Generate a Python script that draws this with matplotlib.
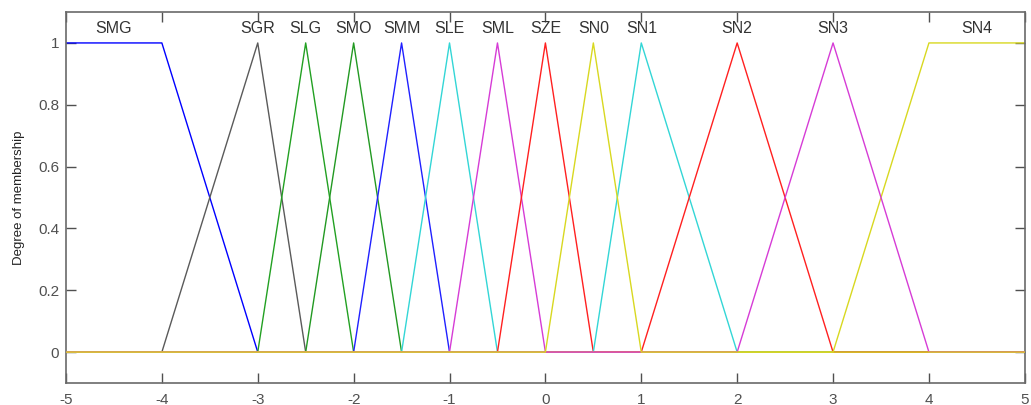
import matplotlib
matplotlib.use("Agg")
import matplotlib.pyplot as plt
import numpy as np

plt.rcParams['font.family'] = ['Liberation Sans', 'DejaVu Sans']

# Membership function names, breakpoints (x) and membership values (y)
names = ["SMG", "SGR", "SLG", "SMO", "SMM", "SLE", "SML", "SZE", "SN0", "SN1", "SN2", "SN3", "SN4"]
mf_x = [
    [-5, -4, -3, 5],
    [-5, -4, -3, -2.5, 5],
    [-5, -3, -2.5, -2, 5],
    [-5, -2.5, -2, -1.5, 5],
    [-5, -2, -1.5, -1, 5],
    [-5, -1.5, -1, -0.5, 5],
    [-5, -1, -0.5, 0, 5],
    [-5, -0.5, 0, 0.5, 5],
    [-5, 0, 0.5, 1, 5],
    [-5, 0.5, 1, 2, 5],
    [-5, 1, 2, 3, 5],
    [-5, 2, 3, 4, 5],
    [-5, 3, 4, 5],
]
mf_y = [
    [1, 1, 0, 0],
    [0, 0, 1, 0, 0],
    [0, 0, 1, 0, 0],
    [0, 0, 1, 0, 0],
    [0, 0, 1, 0, 0],
    [0, 0, 1, 0, 0],
    [0, 0, 1, 0, 0],
    [0, 0, 1, 0, 0],
    [0, 0, 1, 0, 0],
    [0, 0, 1, 0, 0],
    [0, 0, 1, 0, 0],
    [0, 0, 1, 0, 0],
    [0, 0, 1, 1],
]
label_x = [-4.5, -3, -2.5, -2, -1.5, -1, -0.5, 0, 0.5, 1, 2, 3, 4.5]
colors = ["#0000ff", "#5a5a5a", "#22a022", "#229922", "#2020ff", "#33d6d6",
          "#d63cd6", "#ff2020", "#d8d820", "#33d6d6", "#ff2020", "#d63cd6", "#d8d820"]
# drawing order (SN0 on top, then SN3)
zorders = [2, 2, 2, 2, 2, 2, 2, 2, 4, 2, 2, 3, 2]

xticks = [-5, -4, -3, -2, -1, 0, 1, 2, 3, 4, 5]
yticks = [0, 0.2, 0.4, 0.6, 0.8, 1]
ytick_labels = ["0", "0.2", "0.4", "0.6", "0.8", "1"]

fig = plt.figure(figsize=(10.31, 4.05), dpi=100)
ax = fig.add_axes([0.064, 0.0543, 0.930, 0.916])

for xs, ys, c, z in zip(mf_x, mf_y, colors, zorders):
    ax.plot(xs, ys, color=c, lw=1.0, zorder=z)

for nm, lx in zip(names, label_x):
    ax.text(lx, 1.033, nm, ha='center', va='baseline', fontsize=11.5, color='#333333')

ax.set_xlim(-5, 5)
ax.set_ylim(-0.1, 1.1)
ax.set_xticks(xticks)
ax.set_xticklabels([str(t) for t in xticks])
ax.set_yticks(yticks)
ax.set_yticklabels(ytick_labels)
ax.tick_params(direction='in', top=True, right=True, length=7, width=1.0,
               colors='#505050', labelsize=11, pad=5)
ax.tick_params(axis='x', pad=7)
for s in ax.spines.values():
    s.set_color('#6a6a6a')
    s.set_linewidth(1.2)
ax.set_ylabel("Degree of membership", fontsize=9.5, color='#222222', labelpad=9)

fig.savefig("out.png", dpi=100)
